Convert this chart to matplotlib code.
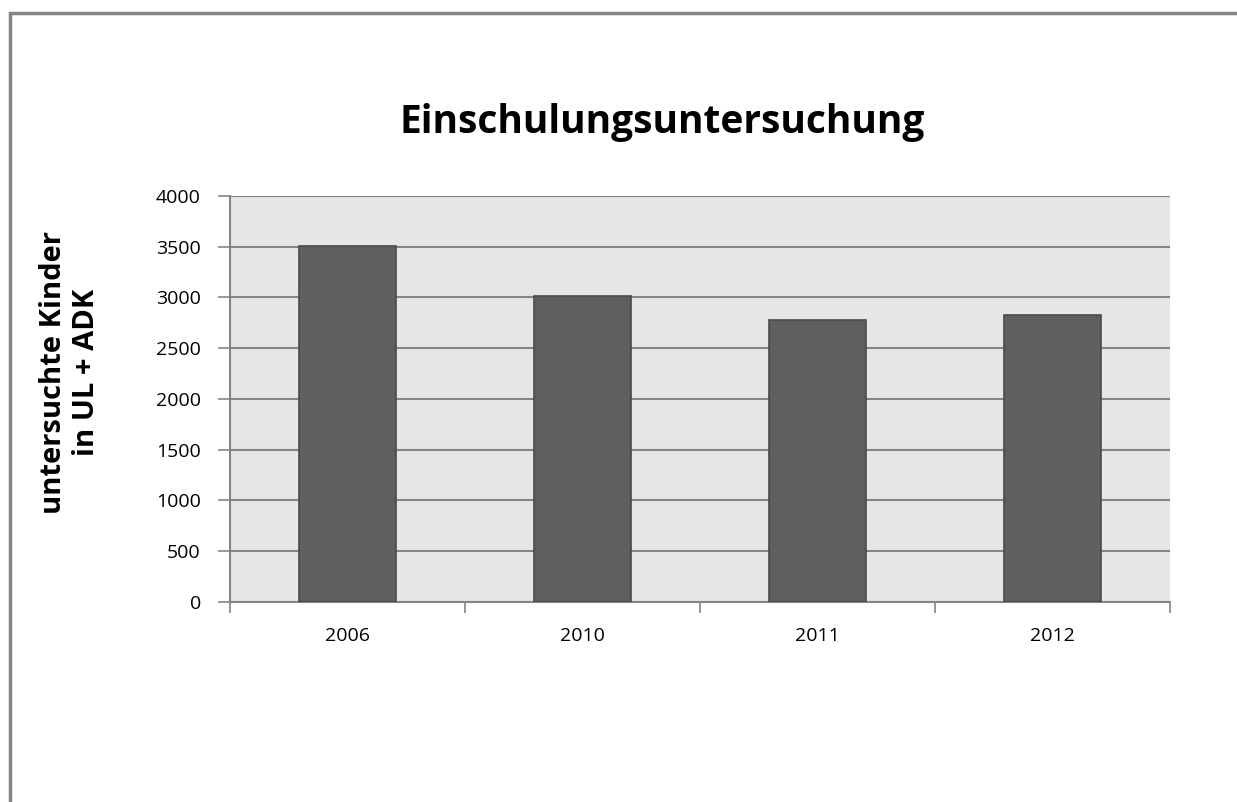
import matplotlib
matplotlib.use("Agg")
import matplotlib.pyplot as plt
from matplotlib.patches import Rectangle

categories = ["2006", "2010", "2011", "2012"]
values = [3505, 3010, 2775, 2825]
yticks = [0, 500, 1000, 1500, 2000, 2500, 3000, 3500, 4000]

W, H = 1237, 802
fig = plt.figure(figsize=(W / 100, H / 100), dpi=100)
plt.rcParams['font.family'] = ['Open Sans', 'DejaVu Sans']

# outer frame (extends beyond right and bottom edges)
fig.patches.append(Rectangle((9.5 / W, -0.5), 2.0, 1.5 - 12.5 / H, transform=fig.transFigure,
                             fill=False, edgecolor='#868686', linewidth=2.5, zorder=0))

ax = fig.add_axes([230 / W, 1 - 601.7 / H, 940 / W, (601.7 - 196) / H])
ax.set_facecolor('#e6e6e6')
x = list(range(len(categories)))
ax.bar(x, values, width=0.41, color='#5f5f5f', edgecolor='#4a4a4a', linewidth=1.2, zorder=3)
ax.set_xlim(-0.5, len(categories) - 0.5)
ax.set_ylim(0, 4000)
ax.set_yticks(yticks)
ax.set_yticklabels([str(v) for v in yticks], fontsize=14)
ax.yaxis.grid(True, color='#858585', linewidth=1.5, zorder=1)
ax.set_axisbelow(True)
ax.set_xticks(x)
ax.set_xticklabels(categories, fontsize=14)
ax.tick_params(axis='x', length=0, pad=18)
ax.tick_params(axis='y', length=9, color='#858585', width=1.2, pad=12)
# category boundary ticks on x axis
ax.set_xticks([i - 0.5 for i in range(len(categories) + 1)], minor=True)
ax.tick_params(axis='x', which='minor', length=8, color='#858585', width=1.2, direction='out')
for s in ['top', 'right']:
    ax.spines[s].set_visible(False)
ax.spines['left'].set_color('#858585')
ax.spines['bottom'].set_color('#858585')
ax.spines['left'].set_linewidth(1.5)
ax.spines['bottom'].set_linewidth(1.5)

fig.text(662 / W, 1 - 122 / H, "Einschulungsuntersuchung", fontsize=28, fontweight='bold',
         ha='center', va='center')
fig.text(70 / W, 1 - 372 / H, "untersuchte Kinder\nin UL + ADK", fontsize=21, fontweight='bold',
         ha='center', va='center', rotation=90, linespacing=1.15)

fig.savefig("out.png", dpi=100)
